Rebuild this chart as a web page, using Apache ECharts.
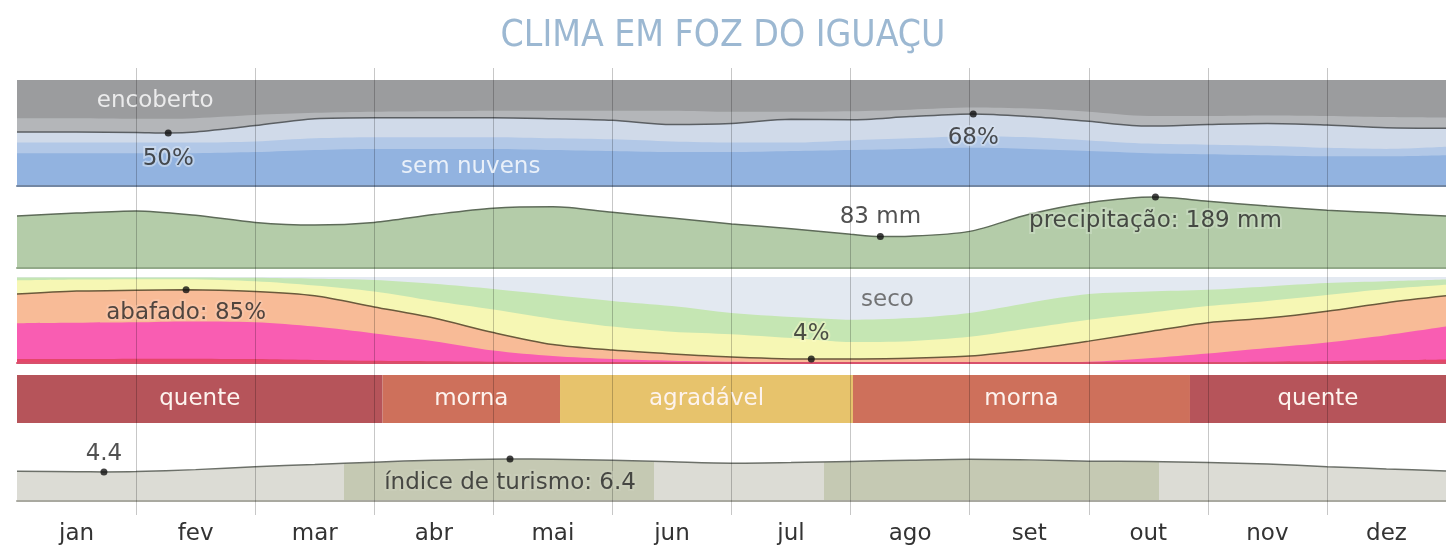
<!DOCTYPE html>
<html>
<head>
<meta charset="utf-8">
<script src="https://cdn.jsdelivr.net/npm/echarts@6/dist/echarts.min.js"></script>
<style>
  html, body { margin: 0; padding: 0; background: #fff; }
  #chart { width: 1446px; height: 549px; }
</style>
</head>
<body>
<div id="chart"></div>
<script>
// ---- data (x positions are in months from 1 January) ----
const months = ['jan', 'fev', 'mar', 'abr', 'mai', 'jun', 'jul', 'ago', 'set', 'out', 'nov', 'dez'];

// cloud cover, cumulative % of time from the bottom (clear → mostly cloudy)
const cloudX = [0, 0.5, 1, 1.27, 1.5, 2, 2.5, 3, 3.5, 4, 4.5, 5, 5.5, 6, 6.5, 7, 7.5, 8.03, 8.5, 9, 9.5, 10, 10.5, 11, 11.5, 12];
const cloudClear        = [31, 31, 31, 31, 31, 32, 34, 35, 35, 35, 34, 33, 32, 32, 33, 34, 35, 36, 35, 33, 31, 30, 29, 28, 28, 29];
const cloudMostlyClear  = [41, 41, 41, 41, 41, 42, 45, 46, 46, 46, 45, 44, 42, 41, 41, 43, 45, 47, 46, 43, 40, 39, 38, 36, 35, 37];
const cloudPartly       = [51, 51, 50.5, 50, 51, 57, 63.5, 64.5, 64.5, 64.5, 63.5, 62, 58, 59, 63, 62.5, 65.5, 68, 65.5, 61, 56.5, 58, 59, 57.5, 55, 54.5];
const cloudMostlyCloudy = [64, 64, 63.5, 63.5, 64, 67, 69, 70, 70.5, 71, 71, 71, 71, 70, 70, 70.5, 72, 74, 73, 70, 66, 66, 66.5, 66, 65, 64.5];
const cloudLow = [1.27, 50];
const cloudHigh = [8.03, 68];

// monthly rainfall, mm
const rainX = [0, 0.5, 1, 1.5, 2, 2.5, 3, 3.5, 4, 4.5, 5, 5.5, 6, 6.5, 7, 7.25, 7.5, 8, 8.5, 9, 9.56, 10, 10.5, 11, 11.5, 12];
const rain  = [138, 146, 152, 140, 121, 114, 121, 142, 159, 163, 148, 133, 117, 104, 89, 83, 84, 97, 143, 174, 189, 178, 165, 154, 146, 138];
const rainLow = [7.25, 83];
const rainHigh = [9.56, 189];

// humidity comfort, cumulative % of time from the bottom (miserable → comfortable)
const humX = [0, 0.5, 1, 1.42, 2, 2.5, 3, 3.5, 4, 4.5, 5, 5.5, 6, 6.67, 7, 7.5, 8, 8.5, 9, 9.5, 10, 10.5, 11, 11.5, 12];
const humMiserable  = [4, 4, 4.5, 4.5, 4, 3, 2, 1.5, 1, 0.5, 0.2, 0, 0, 0, 0, 0, 0, 0, 0, 0.2, 0.5, 1, 1.5, 2.5, 3.5];
const humOppressive = [46, 46.5, 47, 48, 47, 42, 34, 25, 14, 7.5, 4, 2, 0.8, 0.3, 0.2, 0.2, 0.3, 0.5, 1, 5, 10.5, 17, 23.5, 32, 42];
const humMuggy      = [80, 83.5, 84.5, 85, 83, 78, 65, 52, 35, 21, 14.5, 10, 6.5, 4, 4.1, 5, 7.5, 15, 25, 36, 46.6, 52, 60, 70, 78];
const humHumid      = [96, 97, 97.5, 97.5, 95, 90, 83, 72, 62, 51, 42, 36, 33, 27, 24, 25, 30, 40, 50, 58, 66, 72, 79, 86, 91];
const humComfort    = [99.5, 99.5, 99.5, 99.5, 99, 98, 96.5, 92, 86, 79, 72, 66, 58, 52, 50, 52, 58, 70, 80, 83, 85, 89, 93, 95, 97];
const humHigh = [1.42, 85];
const humLow = [6.67, 4];

// temperature bands
const tempLabels = ['quente', 'morna', 'agradável', 'morna', 'quente'];
const tempStart  = [0, 3.07, 4.56, 7.02, 9.85];
const tempEnd    = [3.07, 4.56, 7.02, 9.85, 12];

// tourism score (0–10)
const tourX = [0, 0.5, 0.73, 1, 1.5, 2, 2.5, 3, 3.5, 4.14, 4.5, 5, 5.5, 6, 6.5, 7, 7.5, 8, 8.5, 9, 9.5, 10, 10.5, 11, 11.5, 12];
const tourism = [4.5, 4.43, 4.4, 4.45, 4.75, 5.2, 5.55, 5.9, 6.2, 6.4, 6.35, 6.2, 5.95, 5.75, 5.85, 6.0, 6.2, 6.35, 6.25, 6.05, 6.0, 5.85, 5.6, 5.2, 4.85, 4.55];
const tourLow = [0.73, 4.4];
const tourHigh = [4.14, 6.4];
const tourBestStart = [2.75, 6.78];
const tourBestEnd   = [5.35, 9.59];

// ---- styling ----
const FONT = "'DejaVu Sans', sans-serif";
const LABEL_SIZE = 23;
const TEMP_COLORS = { 'quente': '#b6545a', 'morna': '#ce705b', 'agradável': '#e7c36c' };
const TOUR_LIGHT = '#dcdcd5';
const TOUR_DARK = '#c5c9b3';

const pair = (xs, ys) => xs.map((x, i) => [x, ys[i]]);

function fill(g, xs, ys, color) {
  return {
    type: 'line', xAxisIndex: g, yAxisIndex: g, data: pair(xs, ys),
    smooth: 0.3, symbol: 'none', silent: true, z: 2,
    lineStyle: { width: 0 }, areaStyle: { color: color, opacity: 1 }
  };
}
function stroke(g, xs, ys, color) {
  return {
    type: 'line', xAxisIndex: g, yAxisIndex: g, data: pair(xs, ys),
    smooth: 0.3, symbol: 'none', silent: true, z: 3,
    lineStyle: { width: 1.5, color: color }
  };
}
function marker(g, point, text, position, distance, halo) {
  return {
    type: 'scatter', xAxisIndex: g, yAxisIndex: g, data: [point],
    symbolSize: 7, itemStyle: { color: '#111' }, silent: true, z: 8,
    label: {
      show: true, formatter: text, position: position, distance: distance,
      fontFamily: FONT, fontSize: LABEL_SIZE, color: '#262626',
      textBorderColor: halo || 'transparent', textBorderWidth: halo ? 4 : 0
    }
  };
}
function note(g, point, text, color) {
  return {
    type: 'scatter', xAxisIndex: g, yAxisIndex: g, data: [point],
    symbolSize: 0, silent: true, z: 8,
    label: { show: true, formatter: text, position: 'inside', fontFamily: FONT, fontSize: LABEL_SIZE, color: color }
  };
}

// ---- layout: five stacked panels sharing one month axis ----
const panels = [
  { top: 80,    height: 106,  max: 100, border: '#7387a3' },  // cloud cover
  { top: 193,   height: 74.5, max: 200, border: '#93aa89' },  // rainfall
  { top: 277,   height: 85.5, max: 100, border: '#d8506c' },  // humidity
  { top: 375,   height: 48,   max: 1,   border: null },       // temperature
  { top: 435.5, height: 65,   max: 10,  border: '#a9a9a0' }   // tourism
];

const grid = panels.map(p => ({ left: 17, right: 0, top: p.top, height: p.height }));
grid.push({ left: 17, right: 0, top: 68, height: 447 });

const xAxis = panels.map((p, i) => ({
  gridIndex: i, type: 'value', min: 0, max: 12, z: 4,
  axisLabel: { show: false }, axisTick: { show: false }, splitLine: { show: false },
  axisLine: { show: !!p.border, onZero: false, lineStyle: { color: p.border || '#fff', width: 2 } }
}));
xAxis.push({
  gridIndex: 5, type: 'category', data: months, boundaryGap: true, z: 6,
  axisLine: { show: false }, axisTick: { show: false },
  axisLabel: { interval: 0, margin: 8, fontFamily: FONT, fontSize: LABEL_SIZE, color: '#333' },
  splitLine: { show: true, showMinLine: false, showMaxLine: false, lineStyle: { color: 'rgba(0,0,0,0.22)', width: 1 } }
});

const yAxis = panels.map((p, i) => ({ gridIndex: i, type: 'value', min: 0, max: p.max, show: false }));
yAxis.push({ gridIndex: 5, type: 'value', min: 0, max: 1, show: false });

const series = [];
// cloud cover
series.push(fill(0, cloudX, cloudX.map(() => 100), '#9b9c9e'));
series.push(fill(0, cloudX, cloudMostlyCloudy, '#b4b6b9'));
series.push(fill(0, cloudX, cloudPartly, '#d0dae9'));
series.push(fill(0, cloudX, cloudMostlyClear, '#b2c8e7'));
series.push(fill(0, cloudX, cloudClear, '#92b3e0'));
series.push(stroke(0, cloudX, cloudPartly, '#5b5f63'));
series.push(note(0, [1.16, 80], 'encoberto', '#ffffff'));
series.push(note(0, [3.81, 18], 'sem nuvens', '#ffffff'));
series.push(marker(0, cloudLow, cloudLow[1] + '%', 'bottom', 11, 'rgba(215,226,242,0.75)'));
series.push(marker(0, cloudHigh, cloudHigh[1] + '%', 'bottom', 9, 'rgba(215,226,242,0.75)'));

// rainfall
series.push(fill(1, rainX, rain, '#b4cca9'));
series.push(stroke(1, rainX, rain, '#5e6b59'));
series.push(marker(1, rainLow, rainLow[1] + ' mm', 'top', 5, null));
series.push(marker(1, rainHigh, 'precipitação: ' + rainHigh[1] + ' mm', 'bottom', 9, 'rgba(205,222,198,0.75)'));

// humidity comfort
series.push(fill(2, humX, humX.map(() => 100), '#e3e9f1'));
series.push(fill(2, humX, humComfort, '#c5e6b3'));
series.push(fill(2, humX, humHumid, '#f6f7b4'));
series.push(fill(2, humX, humMuggy, '#f8bb97'));
series.push(fill(2, humX, humOppressive, '#f95db2'));
series.push(fill(2, humX, humMiserable, '#e5466a'));
series.push(stroke(2, humX, humMuggy, '#6b5a3c'));
series.push(note(2, [7.31, 73], 'seco', '#555'));
series.push(marker(2, humHigh, 'abafado: ' + humHigh[1] + '%', 'bottom', 8, 'rgba(250,205,180,0.6)'));
series.push(marker(2, humLow, humLow[1] + '%', 'top', 10, 'rgba(250,250,200,0.6)'));

// temperature bands
series.push({
  type: 'custom', xAxisIndex: 3, yAxisIndex: 3, silent: true, z: 2,
  data: tempLabels.map((t, i) => [tempStart[i], tempEnd[i], i]),
  renderItem: function (params, api) {
    const a = api.coord([api.value(0), 1]);
    const b = api.coord([api.value(1), 0]);
    const label = tempLabels[api.value(2)];
    return {
      type: 'rect',
      shape: { x: a[0], y: a[1], width: b[0] - a[0], height: b[1] - a[1] },
      style: { fill: TEMP_COLORS[label] },
      textContent: { type: 'text', style: { text: label, fill: '#fdf3ee', font: LABEL_SIZE + 'px ' + FONT } },
      textConfig: { position: 'inside' }
    };
  }
});

// tourism score
const tourFillIndex = series.length;
series.push({
  type: 'line', xAxisIndex: 4, yAxisIndex: 4, data: pair(tourX, tourism),
  smooth: 0.3, symbol: 'none', silent: true, z: 2,
  lineStyle: { width: 0 }, areaStyle: { opacity: 1 }
});
series.push(stroke(4, tourX, tourism, '#6c7069'));
series.push(marker(4, tourLow, tourLow[1].toFixed(1), 'top', 3, 'rgba(255,255,255,0.6)'));
series.push(marker(4, tourHigh, 'índice de turismo: ' + tourHigh[1].toFixed(1), 'bottom', 9, 'rgba(205,210,190,0.6)'));

// overlay grid carrying month labels and the vertical month lines
series.push({ type: 'line', xAxisIndex: 5, yAxisIndex: 5, data: [], silent: true });

const tourPieces = [];
let from = 0;
tourBestStart.forEach((s, i) => {
  tourPieces.push({ gte: from, lt: s, color: TOUR_LIGHT });
  tourPieces.push({ gte: s, lt: tourBestEnd[i], color: TOUR_DARK });
  from = tourBestEnd[i];
});
tourPieces.push({ gte: from, lte: 12, color: TOUR_LIGHT });

const chart = echarts.init(document.getElementById('chart'), null, { renderer: 'canvas' });
chart.setOption({
  animation: false,
  backgroundColor: '#ffffff',
  title: {
    text: 'CLIMA EM FOZ DO IGUAÇU', left: 'center', top: 18, padding: 0,
    textStyle: {
      fontFamily: "'Liberation Sans Narrow', 'DejaVu Sans Condensed', sans-serif",
      fontWeight: 'normal', fontSize: 37, color: '#9cb8d2'
    }
  },
  visualMap: [{
    type: 'piecewise', show: false, dimension: 0, seriesIndex: tourFillIndex, pieces: tourPieces
  }],
  grid: grid,
  xAxis: xAxis,
  yAxis: yAxis,
  series: series
});
</script>
</body>
</html>
